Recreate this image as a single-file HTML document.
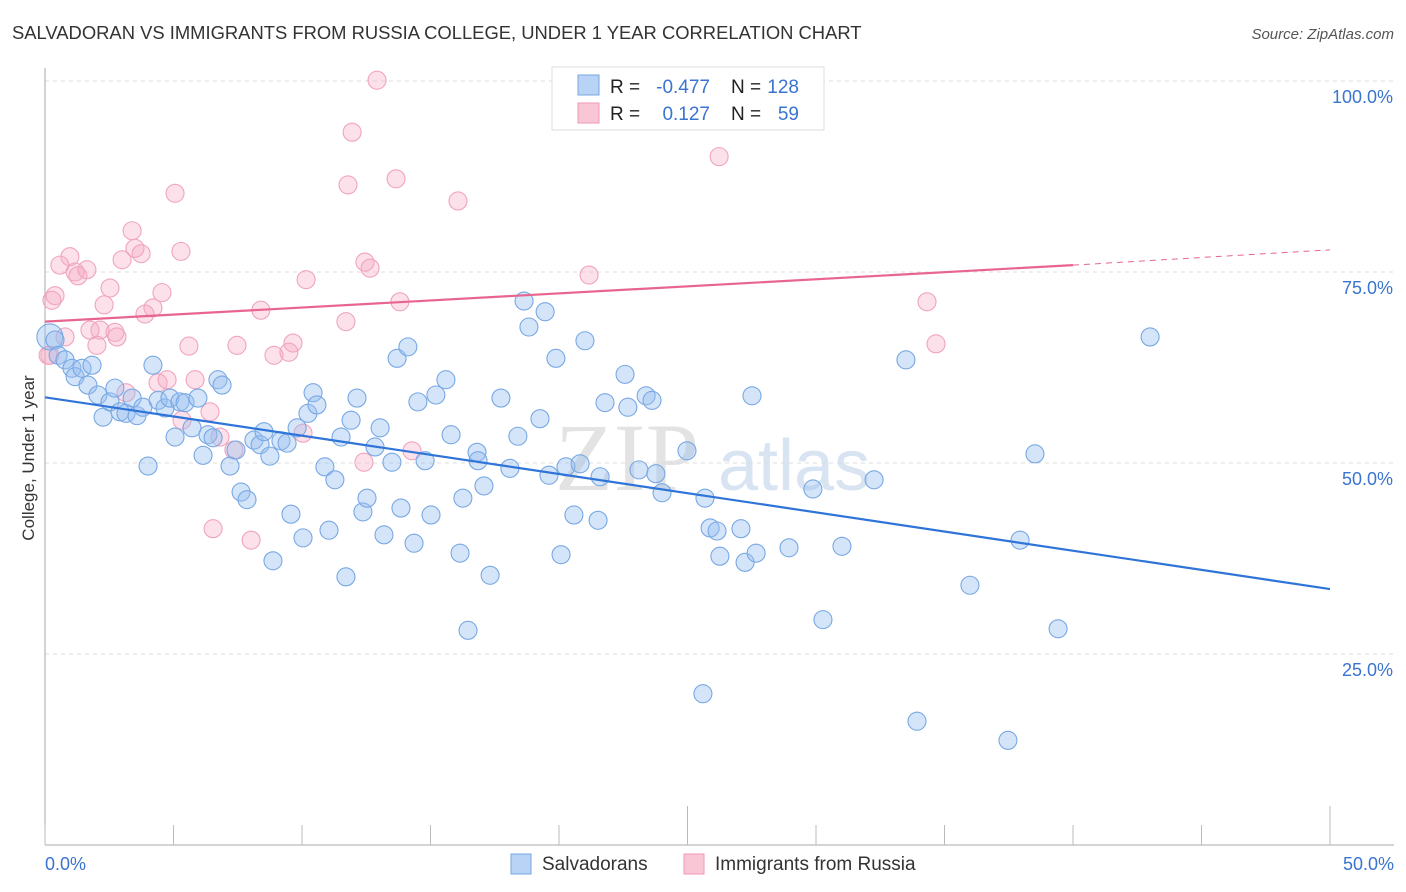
<!DOCTYPE html>
<html><head><meta charset="utf-8"><style>
body{margin:0;background:#fff;font-family:"Liberation Sans",sans-serif;}
#wrap{position:relative;width:1406px;height:892px;overflow:hidden;}
</style></head><body>
<div id="wrap">
<svg id="svg" width="1406" height="892" xmlns="http://www.w3.org/2000/svg">
<text x="12" y="39" font-size="18.4" fill="#333">SALVADORAN VS IMMIGRANTS FROM RUSSIA COLLEGE, UNDER 1 YEAR CORRELATION CHART</text>
<text x="1394" y="39" font-size="15" fill="#555" font-style="italic" text-anchor="end">Source: ZipAtlas.com</text>
<text x="34" y="458" font-size="17" fill="#333" text-anchor="middle" transform="rotate(-90 34 458)">College, Under 1 year</text>
<text x="555" y="490" font-size="96" fill="#e3e3e3" font-family="Liberation Serif,serif">ZIP</text>
<text x="718" y="490" font-size="72" fill="#d8e4f2">atlas</text>
<g id="grid"></g><g id="marks"></g>
<g>
<rect x="552" y="67" width="272" height="63" fill="#fff" stroke="#ddd"/>
<rect x="578" y="75" width="21" height="20" fill="#b8d3f5" stroke="#7aa7e0"/>
<rect x="578" y="103" width="21" height="20" fill="#f9c6d6" stroke="#ee9ab5"/>
<text x="610" y="93" font-size="19" fill="#222">R =</text>
<text x="710" y="93" font-size="19" fill="#3a74d0" text-anchor="end">-0.477</text>
<text x="731" y="93" font-size="19" fill="#222">N =</text>
<text x="799" y="93" font-size="19" fill="#3a74d0" text-anchor="end">128</text>
<text x="610" y="120" font-size="19" fill="#222">R =</text>
<text x="710" y="120" font-size="19" fill="#3a74d0" text-anchor="end">0.127</text>
<text x="731" y="120" font-size="19" fill="#222">N =</text>
<text x="799" y="120" font-size="19" fill="#3a74d0" text-anchor="end">59</text>
</g>
<g>
<rect x="511" y="854" width="20" height="20" fill="#b8d3f5" stroke="#7aa7e0"/>
<text x="542" y="870" font-size="19" fill="#333">Salvadorans</text>
<rect x="684" y="854" width="20" height="20" fill="#f9c6d6" stroke="#ee9ab5"/>
<text x="715" y="870" font-size="19" fill="#333">Immigrants from Russia</text>
</g>
</svg>
</div>
<script>
const xTicks=[0,5,10,15,20,25,30,35,40,45,50];
const yTicks=[25,50,75,100];
const yTickLabels=["25.0%","50.0%","75.0%","100.0%"];
const blueX=[0.19,0.39,0.51,0.78,1.05,1.17,1.44,1.67,1.83,2.06,2.26,2.53,2.72,2.92,3.15,3.39,3.58,3.81,4.01,4.20,4.40,4.67,4.86,5.06,5.25,5.45,5.72,5.95,6.15,6.34,6.54,6.73,6.89,7.20,7.43,7.63,7.86,8.13,8.37,8.52,8.75,8.87,9.18,9.42,9.57,9.81,10.04,10.23,10.43,10.58,10.89,11.05,11.28,11.52,11.71,11.91,12.14,12.37,12.53,12.84,13.04,13.19,13.50,13.70,13.85,14.12,14.36,14.51,14.79,15.02,15.21,15.60,15.80,16.15,16.26,16.46,16.81,16.85,17.08,17.32,17.74,18.09,18.40,18.64,18.83,19.26,19.46,19.61,19.88,20.08,20.27,20.58,20.82,21.01,21.52,21.60,21.79,22.57,22.68,23.11,23.39,23.62,23.77,24.01,24.98,25.60,25.68,25.88,26.15,26.26,27.08,27.24,27.67,27.51,28.95,29.88,30.27,31.01,32.26,33.50,33.93,35.99,37.47,37.94,38.52,39.42,43.00];
const blueY=[66.5,66.1,64.1,63.5,62.4,61.3,62.4,60.2,62.8,58.9,56.0,58.0,59.8,56.7,56.5,58.5,56.2,57.3,49.6,62.8,58.2,57.2,58.5,53.4,58.0,57.9,54.6,58.5,51.0,53.7,53.3,60.9,60.2,49.6,51.7,46.2,45.2,53.0,52.4,54.1,50.9,37.2,52.9,52.6,43.3,54.6,40.2,56.5,59.2,57.6,49.5,41.2,47.8,53.4,35.1,55.6,58.5,43.6,45.4,52.1,54.6,40.6,50.1,63.7,44.1,65.2,39.5,58.0,50.3,43.2,58.9,60.9,53.7,38.2,45.4,28.1,51.4,50.3,47.0,35.3,58.5,49.3,53.5,71.2,67.8,55.8,69.8,48.4,63.7,38.0,49.5,43.2,49.9,66.0,42.5,48.2,57.9,61.6,57.3,49.1,58.8,58.2,48.6,46.1,51.6,19.8,45.4,41.5,41.1,37.8,41.4,37.0,38.2,58.8,38.9,46.6,29.5,39.1,47.8,63.5,16.2,34.0,13.7,39.9,51.2,28.3,66.5];
const pinkX=[12.92,11.95,26.23,5.06,11.79,13.66,16.07,3.39,3.50,3.74,5.29,0.97,0.58,3.00,1.17,1.28,1.63,12.45,12.65,21.17,10.16,2.53,0.39,0.27,4.55,2.30,4.20,3.89,8.40,13.81,34.32,11.71,1.75,2.14,2.72,2.80,0.78,2.02,5.60,7.47,9.65,8.91,9.49,34.67,0.19,3.15,4.40,4.75,5.84,6.42,5.33,6.81,7.35,10.04,14.28,12.41,6.54,8.02,0.12];
const pinkY=[100.1,93.3,90.1,85.3,86.4,87.2,84.3,80.4,78.1,77.4,77.7,77.0,75.9,76.6,75.0,74.5,75.3,76.3,75.5,74.6,74.0,72.9,71.9,71.3,72.3,70.7,70.3,69.5,70.0,71.1,71.1,68.5,67.4,67.4,67.1,66.5,66.5,65.4,65.3,65.4,65.7,64.1,64.5,65.6,64.1,59.2,60.5,60.9,60.9,56.7,55.6,53.4,51.7,53.9,51.6,50.1,41.4,39.9,64.1];
const blueTrend=[58.6,33.5];
const pinkTrend=[68.5,75.9,77.9];
const pinkSolidEnd=40;
const NS="http://www.w3.org/2000/svg";
const X=v=>45+v/50*1285;
const Y=v=>845-v/100*764;
function mk(tag,attrs,parent){const e=document.createElementNS(NS,tag);for(const k in attrs)e.setAttribute(k,attrs[k]);parent.appendChild(e);return e;}
const grid=document.getElementById('grid'),marks=document.getElementById('marks');
yTicks.forEach((t,i)=>{
 const l=mk('line',{x1:45,x2:1394,y1:Y(t),y2:Y(t),stroke:'#ddd','stroke-dasharray':'4 4'},grid);
 
 
 const tx=mk('text',{x:1393,y:Y(t)+22,'font-size':18,fill:'#3a74d0','text-anchor':'end'},grid);
 tx.textContent=yTickLabels[i];
 
 
});
const ax=mk('line',{x1:45,x2:1394,y1:845,y2:845,stroke:'#aaa'},grid);


const ay=mk('line',{x1:45,x2:45,y1:68,y2:845,stroke:'#aaa'},grid);


xTicks.forEach(t=>{
 const big=(t===25||t===50);
 const l=mk('line',{x1:X(t),x2:X(t),y1:big?806:825,y2:845,stroke:'#bbb'},grid);
 
 
});
const xl0=mk('text',{x:45,y:870,'font-size':18,fill:'#3a74d0'},grid);xl0.textContent=xTicks[0].toFixed(1)+'%';


const xl1=mk('text',{x:1394,y:870,'font-size':18,fill:'#3a74d0','text-anchor':'end'},grid);xl1.textContent=xTicks[xTicks.length-1].toFixed(1)+'%';


pinkX.forEach((x,i)=>{
 const c=mk('circle',{cx:X(x),cy:Y(pinkY[i]),r:9,fill:'rgba(246,170,196,0.35)',stroke:'#f0a4bd','stroke-width':1.1},marks);
 
 
});
blueX.forEach((x,i)=>{
 const c=mk('circle',{cx:X(x),cy:Y(blueY[i]),r:i===0?13:9,fill:'rgba(150,190,240,0.4)',stroke:'#78a8e4','stroke-width':1.1},marks);
 
 
});
const bt=mk('line',{x1:X(0),y1:Y(blueTrend[0]),x2:X(50),y2:Y(blueTrend[1]),stroke:'#2f74d8','stroke-width':2.2},marks);


const pt=mk('line',{x1:X(0),y1:Y(pinkTrend[0]),x2:X(pinkSolidEnd),y2:Y(pinkTrend[1]),stroke:'#e8658f','stroke-width':2.2},marks);


const pd=mk('line',{x1:X(pinkSolidEnd),y1:Y(pinkTrend[1]),x2:X(50),y2:Y(pinkTrend[2]),stroke:'#e8658f','stroke-width':1,'stroke-dasharray':'6 5'},marks);


</script>
</body></html>
